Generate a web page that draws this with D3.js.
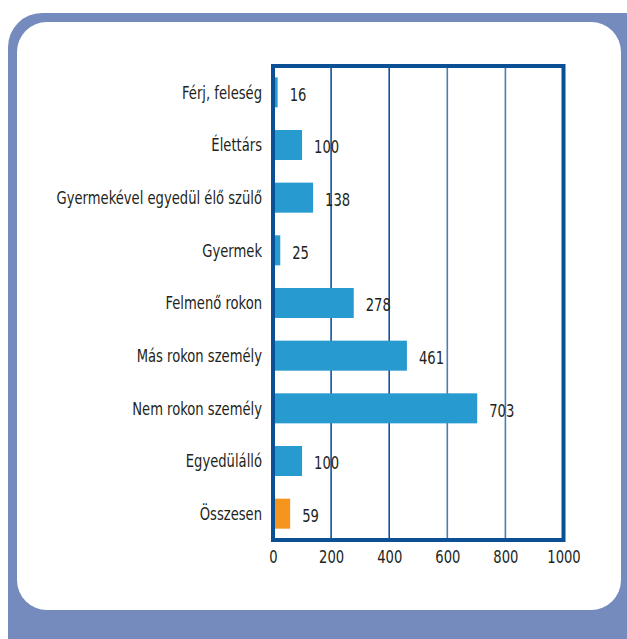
<!DOCTYPE html>
<html>
<head>
<meta charset="utf-8">
<script src="https://cdn.jsdelivr.net/npm/d3@7"></script>
<style>
  body { margin: 0; background: #fff; }
  svg { display: block; }
</style>
</head>
<body>
<svg id="chart" width="627" height="639"></svg>
<script>
const categories = [
  "Férj, feleség",
  "Élettárs",
  "Gyermekével egyedül élő szülő",
  "Gyermek",
  "Felmenő rokon",
  "Más rokon személy",
  "Nem rokon személy",
  "Egyedülálló",
  "Összesen"
]
const values = [16, 100, 138, 25, 278, 461, 703, 100, 59]
const ticks = [0, 200, 400, 600, 800, 1000]

const font = "'DejaVu Sans Condensed', 'DejaVu Sans', sans-serif"
const squeeze = "scale(0.86,1.06)"
const margin = { top: 66, bottom: 99, left: 273, right: 65 }
const width = 627
const height = 639

const svg = d3.select("#chart")

// frame around everything
svg.append("rect")
  .attr("x", 8).attr("y", 13)
  .attr("width", 660).attr("height", 660)
  .attr("rx", 34)
  .attr("fill", "#758bbd")

svg.append("rect")
  .attr("x", 17).attr("y", 22)
  .attr("width", 604).attr("height", 588)
  .attr("rx", 30)
  .attr("fill", "#fff")

const x = d3.scaleLinear()
  .domain([0, 1000])
  .range([margin.left, width - margin.right + 1.5])

const y = d3.scaleBand()
  .domain(categories)
  .range([margin.top, height - margin.bottom])
  .paddingInner(0.43)
  .paddingOuter(0.215)

// grid
svg.append("g")
  .selectAll("line")
  .data(ticks.slice(1, -1))
  .join("line")
  .attr("x1", d => x(d)).attr("x2", d => x(d))
  .attr("y1", margin.top).attr("y2", height - margin.bottom)
  .attr("stroke", (d, i) => i < 2 ? "#12519b" : "#4a7fb5")
  .attr("stroke-width", 1.6)

// bars
svg.append("g")
  .selectAll("rect")
  .data(values)
  .join("rect")
  .attr("x", x(0))
  .attr("y", (d, i) => y(categories[i]))
  .attr("width", d => x(d) - x(0))
  .attr("height", y.bandwidth())
  .attr("fill", (d, i) => i === categories.length - 1 ? "#f7941d" : "#279bcf")

// plot frame
svg.append("rect")
  .attr("x", margin.left)
  .attr("y", margin.top)
  .attr("width", x(1000) - margin.left)
  .attr("height", height - margin.bottom - margin.top)
  .attr("fill", "none")
  .attr("stroke", "#0b4f95")
  .attr("stroke-width", 4)

// value labels
svg.append("g")
  .selectAll("text")
  .data(values)
  .join("text")
  .attr("transform", (d, i) =>
    `translate(${x(d) + 12},${y(categories[i]) + y.bandwidth() / 2 + 2}) ${squeeze}`)
  .attr("dy", "0.35em")
  .attr("font-family", font)
  .attr("font-size", 17)
  .attr("fill", "#231f20")
  .text(d => d)

// category labels
svg.append("g")
  .selectAll("text")
  .data(categories)
  .join("text")
  .attr("transform", d =>
    `translate(${margin.left - 11},${y(d) + y.bandwidth() / 2}) ${squeeze}`)
  .attr("dy", "0.35em")
  .attr("text-anchor", "end")
  .attr("font-family", font)
  .attr("font-size", 17)
  .attr("fill", "#231f20")
  .text(d => d)

// x axis labels
const xAxis = svg.append("g")
  .attr("transform", `translate(0,${height - margin.bottom})`)
  .call(d3.axisBottom(x).tickValues(ticks).tickFormat(d3.format("d")).tickSize(0).tickPadding(0))
xAxis.select(".domain").remove()
xAxis.selectAll(".tick text")
  .attr("y", null)
  .attr("dy", null)
  .attr("transform", `translate(0,23) ${squeeze}`)
  .attr("font-family", font)
  .attr("font-size", 17)
  .attr("fill", "#231f20")
</script>
</body>
</html>
